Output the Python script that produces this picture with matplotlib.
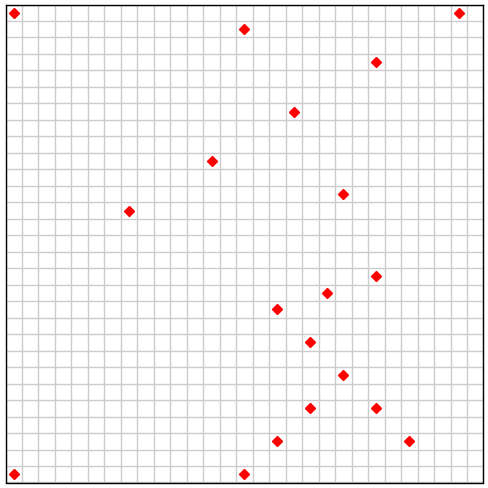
import matplotlib
matplotlib.use("Agg")
import matplotlib.pyplot as plt

# grid cells (column from left, row from top)
cols = [0, 14, 27, 22, 17, 12, 20, 7, 22, 19, 16, 18, 20, 18, 22, 16, 24, 0, 14]
rows = [0, 1, 0, 3, 6, 9, 11, 12, 16, 17, 18, 20, 22, 24, 24, 26, 26, 28, 28]
n_cells = 29

fig = plt.figure(figsize=(4.89, 4.89), dpi=100)
ax = fig.add_axes([5.5 / 489, 5.5 / 489, 478 / 489, 478 / 489])

ax.plot([c + 0.5 for c in cols], [r + 0.5 for r in rows], linestyle="none",
        marker="D", markersize=4.6, color="red", markeredgecolor="red", zorder=3)

ax.set_xlim(0, n_cells)
ax.set_ylim(n_cells, 0)
ax.set_xticks(range(n_cells + 1))
ax.set_yticks(range(n_cells + 1))
ax.grid(True, color="#cccccc", linewidth=1)
ax.tick_params(length=0, labelbottom=False, labelleft=False)
for s in ax.spines.values():
    s.set_color("black")
    s.set_linewidth(1)

fig.savefig("out.png", dpi=100)
